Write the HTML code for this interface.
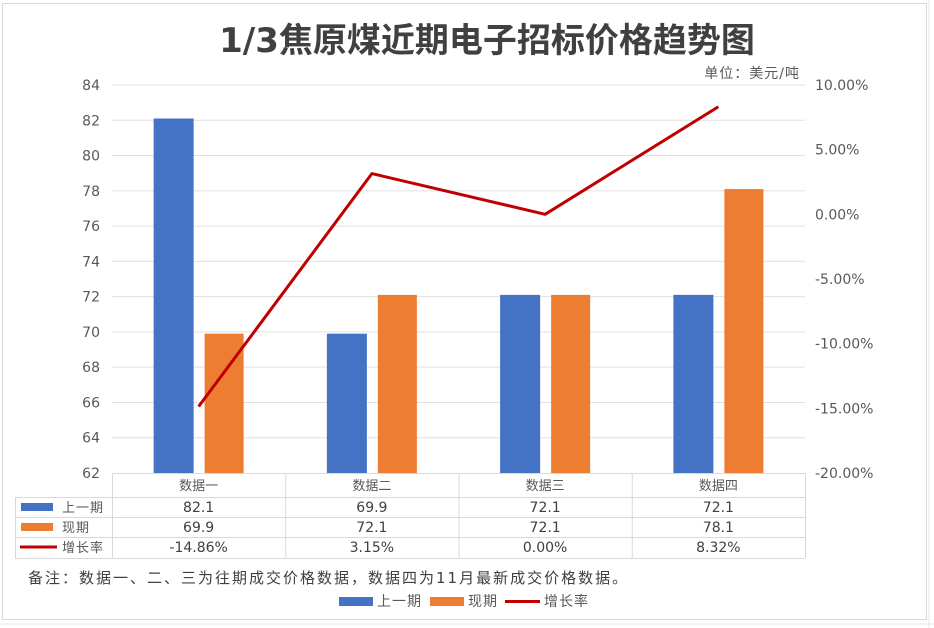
<!DOCTYPE html>
<html><head><meta charset="utf-8"><style>
body{margin:0;background:#fff;}
svg{display:block;font-family:"DejaVu Sans","Noto Sans CJK SC",sans-serif;}
</style></head><body>
<svg id="c" width="934" height="628">
<rect x="0" y="0" width="934" height="628" fill="#fff"/>
<g stroke="#e6e6e6">
<line x1="0" y1="624" x2="934" y2="624"/><line x1="929" y1="0" x2="929" y2="628"/>
</g>
<rect x="2.5" y="3.5" width="924" height="616" fill="#fff" stroke="#d9d9d9"/>
<text x="487" y="52" text-anchor="middle" font-size="34" font-weight="bold" fill="#404040">1/3焦原煤近期电子招标价格趋势图</text>
<text x="800" y="78" text-anchor="end" font-size="14" letter-spacing="1" fill="#595959">单位：美元/吨</text>
<g id="grid"></g><g id="bars"></g><g id="line"></g><g id="axes"></g><g id="table"></g>
<text x="28" y="583" font-size="15" letter-spacing="2" fill="#404040">备注：数据一、二、三为往期成交价格数据，数据四为11月最新成交价格数据。</text>
<g>
<rect x="339" y="597" width="34" height="9" fill="#4472c4"/>
<text x="377" y="606" font-size="14" letter-spacing="1" fill="#595959">上一期</text>
<rect x="430" y="597" width="34" height="9" fill="#ed7d31"/>
<text x="468" y="606" font-size="14" letter-spacing="1" fill="#595959">现期</text>
<line x1="505" y1="601.5" x2="540" y2="601.5" stroke="#c00000" stroke-width="3"/>
<text x="544" y="606" font-size="14" letter-spacing="1" fill="#595959">增长率</text>
</g>
</svg>
<script>
const categories=["数据一","数据二","数据三","数据四"];
const prevValues=[82.1,69.9,72.1,72.1];
const currValues=[69.9,72.1,72.1,78.1];
const growthValues=[-14.86,3.15,0.00,8.32];
const leftTicks=[62,64,66,68,70,72,74,76,78,80,82,84];
const rightTicks=[-20,-15,-10,-5,0,5,10];
const NS="http://www.w3.org/2000/svg";
const X0=112,X1=805,Y0=473,Y1=85;
const bw=(X1-X0)/categories.length;
const yL=v=>Y0-(v-62)/(84-62)*(Y0-Y1);
const yR=v=>Y0-(v+20)/30*(Y0-Y1);
const cx=i=>X0+bw*(i+0.5);
function mk(tag,attrs,parent,txt){const e=document.createElementNS(NS,tag);for(const k in attrs)e.setAttribute(k,attrs[k]);if(txt!==undefined)e.textContent=txt;document.getElementById(parent).appendChild(e);return e;}
leftTicks.forEach(t=>{
 const y=yL(t);
 if(t>62){const g=mk('line',{x1:X0,x2:X1,y1:y,y2:y,stroke:'#e0e0e0'},'grid');
 
 }
 const l=mk('text',{x:100,y:y+5,'text-anchor':'end','font-size':14,fill:'#595959'},'axes',String(t));
 
 
});
rightTicks.forEach(t=>{
 const l=mk('text',{x:815,y:yR(t)+5,'font-size':14,fill:'#595959'},'axes',t.toFixed(2)+'%');
 
 
});
categories.forEach((c,i)=>{
 const b1=mk('rect',{x:cx(i)-45,y:yL(prevValues[i]),width:40,height:Y0-yL(prevValues[i]),fill:'#4472c4'},'bars');
 
 
 const b2=mk('rect',{x:cx(i)+6,y:yL(currValues[i]),width:39,height:Y0-yL(currValues[i]),fill:'#ed7d31'},'bars');
 
 
});
const pts=growthValues.map((v,i)=>cx(i)+','+yR(v)).join(' ');
const pl=mk('polyline',{points:pts,fill:'none',stroke:'#c00000','stroke-width':3,'stroke-linejoin':'round'},'line');


const rows=[473,497,517,537,558];
const T='table';
const st={stroke:'#d9d9d9','stroke-width':1};
mk('line',Object.assign({x1:X0,x2:X1,y1:rows[0]+.5,y2:rows[0]+.5},st),T);
for(let r=1;r<rows.length;r++)mk('line',Object.assign({x1:15,x2:X1,y1:rows[r]+.5,y2:rows[r]+.5},st),T);
mk('line',Object.assign({x1:15.5,x2:15.5,y1:rows[1],y2:rows[4]},st),T);
for(let i=0;i<=4;i++)mk('line',Object.assign({x1:X0+bw*i+.5,x2:X0+bw*i+.5,y1:rows[0],y2:rows[4]},st),T);
categories.forEach((c,i)=>{
 const t=mk('text',{x:cx(i),y:490,'text-anchor':'middle','font-size':13,fill:'#595959'},T,c);
 
 
});
const series=[["上一期",prevValues.map(v=>v.toFixed(1))],["现期",currValues.map(v=>v.toFixed(1))],["增长率",growthValues.map(v=>v.toFixed(2)+'%')]];
series.forEach((s,r)=>{
 const ty=rows[r+1]+15;
 if(r<2)mk('rect',{x:21,y:ty-9,width:32,height:8,fill:r?'#ed7d31':'#4472c4'},T);
 else mk('line',{x1:20,x2:57,y1:ty-5,y2:ty-5,stroke:'#c00000','stroke-width':3},T);
 const lab=mk('text',{x:62,y:ty,'font-size':13,'letter-spacing':1,fill:'#595959'},T,s[0]);
 
 
 s[1].forEach((v,i)=>{
  const t=mk('text',{x:cx(i),y:ty,'text-anchor':'middle','font-size':14,fill:'#404040'},T,v);
  
  
 });
});
</script>
</body></html>
